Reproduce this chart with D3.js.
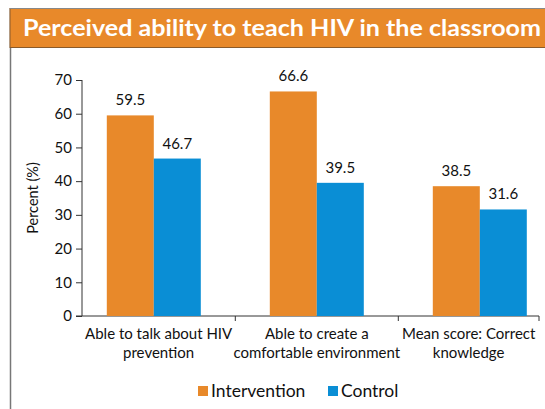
<!DOCTYPE html>
<html>
<head>
<meta charset="utf-8">
<script src="https://cdn.jsdelivr.net/npm/d3@7"></script>
<style>
  body { margin: 0; background: #fff; }
  text { font-family: Lato, "Open Sans", sans-serif; fill: #111; }
</style>
</head>
<body>
<div id="chart"></div>
<script>
const categories = [
    ["Able to talk about HIV", "prevention"],
    ["Able to create a", "comfortable environment"],
    ["Mean score: Correct", "knowledge"]
];
const seriesNames = ["Intervention", "Control"];
const intervention = [59.5, 66.6, 38.5];
const control = [46.7, 39.5, 31.6];
const yTicks = [0, 10, 20, 30, 40, 50, 60, 70];
const titleText = "Perceived ability to teach HIV in the classroom";

const W = 545, H = 409;
const orange = "#E8892A", blue = "#0A8ED5";
const colour = d3.scaleOrdinal().domain(seriesNames).range([orange, blue]);

const svg = d3.select("#chart").append("svg")
    .attr("width", W).attr("height", H);

// frame + banner
svg.append("line").attr("x1", 10.5).attr("x2", 10.5).attr("y1", 8).attr("y2", H)
    .attr("stroke", "#777").attr("stroke-width", 1.5);
svg.append("rect").attr("x", 10).attr("y", 8.5).attr("width", W).attr("height", 39)
    .attr("fill", orange).attr("stroke", "#8a5a2a").attr("stroke-width", 1);
svg.append("line").attr("x1", 10).attr("x2", W).attr("y1", 8.5).attr("y2", 8.5)
    .attr("stroke", "#888").attr("stroke-width", 1);
svg.append("text").attr("x", 23).attr("y", 36)
    .attr("textLength", 518).attr("lengthAdjust", "spacingAndGlyphs")
    .style("font-size", "23px").style("font-weight", "bold").style("fill", "#fff")
    .text(titleText);

// scales
const y = d3.scaleLinear().domain([0, 70]).range([316, 80]);
const x = d3.scaleBand().domain(d3.range(categories.length)).range([72.3, 561.3]);
const barW = 47;
const xs = d3.scaleBand().domain(seriesNames).range([-barW, barW]);

// y axis
const yAxis = svg.append("g").attr("transform", "translate(82,0)")
    .call(d3.axisLeft(y).tickValues(yTicks).tickSize(6).tickPadding(4));
yAxis.select(".domain").attr("stroke", "#333").attr("d", `M0,${y(70)}V${y(0)}`);
yAxis.selectAll(".tick line").attr("stroke", "#333");
yAxis.selectAll(".tick text").style("font-size", "15px").style("font-family", "Lato, sans-serif").attr("fill", "#111");

svg.append("text").attr("transform", `translate(38,${y(35)}) rotate(-90)`)
    .attr("text-anchor", "middle").style("font-size", "14.5px").text("Percent (%)");

// x axis
const axisEnd = 539;
svg.append("line").attr("x1", 76).attr("x2", axisEnd).attr("y1", y(0)).attr("y2", y(0))
    .attr("stroke", "#333");
const boundaries = [82, x(1), x(2), axisEnd];
svg.selectAll(".xtick").data(boundaries.slice(1)).join("line")
    .attr("x1", d => d).attr("x2", d => d).attr("y1", y(0)).attr("y2", y(0) + 5)
    .attr("stroke", "#333");

// bars
const groups = svg.selectAll(".grp").data(categories.map((c, i) => i)).join("g")
    .attr("transform", i => `translate(${x(i) + x.bandwidth() / 2},0)`);
groups.each(function (i) {
    const vals = [intervention[i], control[i]];
    const g = d3.select(this);
    g.selectAll("rect").data(seriesNames).join("rect")
        .attr("x", (s) => xs(s))
        .attr("y", (s, j) => y(vals[j]))
        .attr("width", xs.bandwidth())
        .attr("height", (s, j) => y(0) - y(vals[j]))
        .attr("fill", s => colour(s));
    g.selectAll(".val").data(seriesNames).join("text")
        .attr("x", s => xs(s) + xs.bandwidth() / 2)
        .attr("y", (s, j) => y(vals[j]) - 10)
        .attr("text-anchor", "middle").style("font-size", "15px")
        .text((s, j) => vals[j].toFixed(1));
});

// category labels, centred between axis ticks, kept inside the axis end
categories.forEach((c, i) => {
    const cx = (boundaries[i] + boundaries[i + 1]) / 2;
    const t = svg.append("text").attr("text-anchor", "middle").style("font-size", "15px");
    t.selectAll("tspan").data(c).join("tspan")
        .attr("x", cx).attr("y", (d, k) => 339 + k * 19).text(d => d);
    const bb = t.node().getBBox();
    if (bb.x + bb.width > axisEnd + 2) {
        t.selectAll("tspan").attr("x", cx - (bb.x + bb.width - axisEnd - 2));
    }
});

// legend
const legend = svg.append("g").attr("transform", "translate(198,386)");
const legX = [0, 130];
seriesNames.forEach((s, i) => {
    legend.append("rect").attr("x", legX[i]).attr("y", 0).attr("width", 10).attr("height", 10)
        .attr("fill", colour(s));
    legend.append("text").attr("x", legX[i] + 13).attr("y", 11)
        .style("font-size", "17.5px").text(s);
});
</script>
</body>
</html>
